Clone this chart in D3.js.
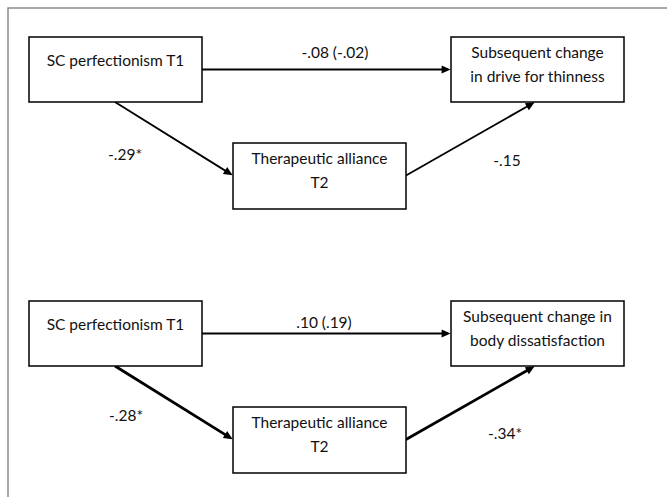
<!DOCTYPE html>
<html>
<head>
<meta charset="utf-8">
<script src="https://cdn.jsdelivr.net/npm/d3@7"></script>
<style>
  body { margin: 0; background: #fff; }
</style>
</head>
<body>
<div id="chart"></div>
<script>
// node labels, one entry per panel
const predictorLabels = [["SC perfectionism T1"], ["SC perfectionism T1"]];
const mediatorLabels = [["Therapeutic alliance", "T2"], ["Therapeutic alliance", "T2"]];
const outcomeLabels = [["Subsequent change", "in drive for thinness"], ["Subsequent change in", "body dissatisfaction"]];

// path coefficients per panel
const pathA = ["-.29*", "-.28*"];        // predictor -> mediator
const pathB = ["-.15", "-.34*"];         // mediator -> outcome
const pathC = ["-.08 (-.02)", ".10 (.19)"]; // direct (total)
const indirectSig = [false, true];       // bold a/b paths

const width = 667, height = 497;
const font = "Lato, 'Open Sans', sans-serif";

const svg = d3.select("#chart").append("svg")
  .attr("width", width)
  .attr("height", height)
  .style("font-family", font);

// panel offset
const panelY = d3.scaleLinear().domain([0, 1]).range([0, 264]);

// pick a font size so the box text has the width of the original
const probe = svg.append("text").attr("font-size", 100).text("Therapeutic alliance");
const fs = 136 / probe.node().getComputedTextLength() * 100;
probe.remove();

// frame (top + left only, the figure is cropped)
svg.append("path")
  .attr("d", `M8,${height}V8H${width}`)
  .attr("fill", "none")
  .attr("stroke", "#8a8a8a")
  .attr("stroke-width", 1.5);

svg.append("defs").append("marker")
  .attr("id", "arrow")
  .attr("viewBox", "0 0 10 10")
  .attr("refX", 6)
  .attr("refY", 5)
  .attr("markerWidth", 10)
  .attr("markerHeight", 9)
  .attr("markerUnits", "userSpaceOnUse")
  .attr("orient", "auto")
  .append("path")
  .attr("d", "M0,0.5L10,5L0,9.5Z")
  .attr("fill", "#000");

const boxW = 173, boxH = 65;
const boxX = {pred: 29, med: 233, out: 451};
const boxY = {pred: 37, med: 143, out: 37};

// label anchor positions per panel (x centre, baseline)
const labelA = [[125, 160], [126, 157]];
const labelB = [[507, 166], [505, 175]];
const labelC = [[335, 58], [324, 64]];

const panels = d3.range(2).map(i => ({
  i,
  nodes: [
    {key: "pred", lines: predictorLabels[i]},
    {key: "med", lines: mediatorLabels[i]},
    {key: "out", lines: outcomeLabels[i]}
  ]
}));

const g = svg.selectAll("g.panel")
  .data(panels)
  .join("g")
  .attr("class", "panel")
  .attr("transform", d => `translate(0,${panelY(d.i)})`);

// arrows
const shorten = 4;
function arrowLine(sel, x1, y1, x2, y2, w) {
  const len = Math.hypot(x2 - x1, y2 - y1);
  const ex = x2 - (x2 - x1) / len * shorten;
  const ey = y2 - (y2 - y1) / len * shorten;
  sel.append("line")
    .attr("x1", x1).attr("y1", y1)
    .attr("x2", ex).attr("y2", ey)
    .attr("stroke", "#000")
    .attr("stroke-width", w)
    .attr("marker-end", "url(#arrow)");
}

g.each(function(d) {
  const p = d3.select(this);
  const midPred = boxY.pred + boxH / 2;
  const midMed = boxY.med + boxH / 2;
  const wAB = indirectSig[d.i] ? 2.8 : 1.8;
  // direct path
  arrowLine(p, boxX.pred + boxW, midPred, boxX.out, midPred, 1.8);
  // a path
  arrowLine(p, 115, boxY.pred + boxH, boxX.med, midMed, wAB);
  // b path
  arrowLine(p, boxX.med + boxW, midMed, 535, boxY.out + boxH, wAB);

  // coefficient labels
  [[pathA, labelA], [pathB, labelB], [pathC, labelC]].forEach(([vals, pos]) => {
    p.append("text")
      .attr("x", pos[d.i][0])
      .attr("y", pos[d.i][1])
      .attr("text-anchor", "middle")
      .attr("font-size", fs)
      .attr("fill", "#111")
      .text(vals[d.i]);
  });
});

// boxes
const node = g.selectAll("g.node")
  .data(d => d.nodes)
  .join("g")
  .attr("class", "node")
  .attr("transform", d => `translate(${boxX[d.key]},${boxY[d.key]})`);

node.append("rect")
  .attr("width", boxW)
  .attr("height", d => d.key === "med" ? boxH + 1 : boxH)
  .attr("fill", "#fff")
  .attr("stroke", "#000")
  .attr("stroke-width", 1.5);

node.selectAll("text")
  .data(d => d.lines.map((t, j) => ({t, j, n: d.lines.length})))
  .join("text")
  .attr("x", boxW / 2)
  .attr("y", d => d.n === 1 ? 29 : 21 + d.j * 24)
  .attr("text-anchor", "middle")
  .attr("font-size", fs)
  .attr("fill", "#111")
  .text(d => d.t);
</script>
</body>
</html>
